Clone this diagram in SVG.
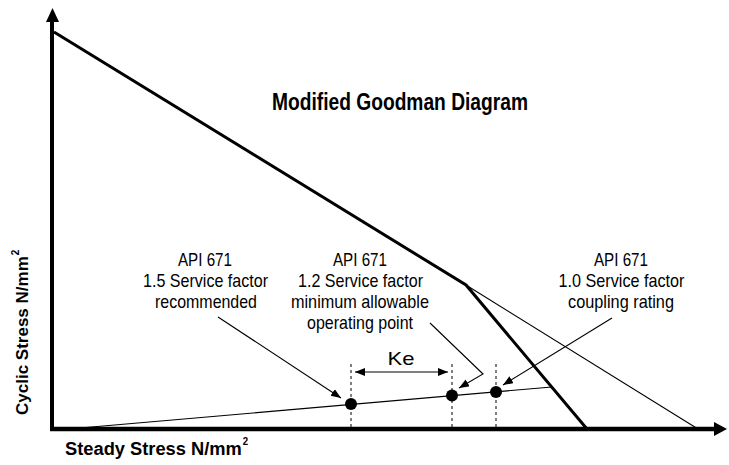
<svg xmlns="http://www.w3.org/2000/svg" width="729" height="465" viewBox="0 0 729 465">
<style>
.lbl{font-family:"Liberation Sans",Arial,sans-serif;font-size:19px;fill:#000;text-anchor:middle}
.bold{font-family:"Liberation Sans",Arial,sans-serif;font-weight:bold;fill:#000}
.sup{font-size:10px}
.thin{stroke:#000;stroke-width:1.1;fill:none}
.dash{stroke:#000;stroke-width:1;stroke-dasharray:3,3;fill:none}
</style>
<defs>
<marker id="ah" markerUnits="userSpaceOnUse" markerWidth="12" markerHeight="10" refX="10" refY="4" orient="auto">
<path d="M0,0 L10,4 L0,8 Z" fill="#000"/>
</marker>
<marker id="ahs" markerUnits="userSpaceOnUse" markerWidth="12" markerHeight="10" refX="0" refY="4" orient="auto">
<path d="M10,0 L0,4 L10,8 Z" fill="#000"/>
</marker>
</defs>
<rect width="729" height="465" fill="#fff"/>
<g id="axes">
<line x1="52" y1="431" x2="52" y2="18" stroke="#000" stroke-width="4"/>
<polygon points="52.5,8 46,22 59,22" fill="#000"/>
<line x1="50" y1="429" x2="716" y2="429" stroke="#000" stroke-width="4.5"/>
<polygon points="727,429 714,422 714,436" fill="#000"/>
</g>
<g id="goodman">
<polyline points="54,32 466,285 587,429" stroke="#000" stroke-width="3" fill="none" stroke-linejoin="miter"/>
<line class="thin" x1="466" y1="285" x2="698" y2="429"/>
<line class="thin" x1="80" y1="428" x2="552" y2="387"/>
</g>
<g id="title"><text class="bold" x="400" y="110" font-size="23" text-anchor="middle" textLength="256" lengthAdjust="spacingAndGlyphs">Modified Goodman Diagram</text></g>
<g id="label-1">
<text class="lbl" x="205" y="266" textLength="54" lengthAdjust="spacingAndGlyphs">API 671</text>
<text class="lbl" x="205.5" y="287" textLength="125" lengthAdjust="spacingAndGlyphs">1.5 Service factor</text>
<text class="lbl" x="206" y="308" textLength="102" lengthAdjust="spacingAndGlyphs">recommended</text>
</g>
<g id="label-2">
<text class="lbl" x="360" y="266" textLength="54" lengthAdjust="spacingAndGlyphs">API 671</text>
<text class="lbl" x="360.5" y="287" textLength="125" lengthAdjust="spacingAndGlyphs">1.2 Service factor</text>
<text class="lbl" x="360" y="308" textLength="138" lengthAdjust="spacingAndGlyphs">minimum allowable</text>
<text class="lbl" x="360" y="329" textLength="106" lengthAdjust="spacingAndGlyphs">operating point</text>
</g>
<g id="label-3">
<text class="lbl" x="621" y="266" textLength="54" lengthAdjust="spacingAndGlyphs">API 671</text>
<text class="lbl" x="621.5" y="287" textLength="126" lengthAdjust="spacingAndGlyphs">1.0 Service factor</text>
<text class="lbl" x="621" y="308" textLength="106" lengthAdjust="spacingAndGlyphs">coupling rating</text>
</g>
<g id="ke">
<line class="dash" x1="351" y1="364" x2="351" y2="427"/>
<line class="dash" x1="452" y1="364" x2="452" y2="427"/>
<line class="dash" x1="496" y1="364" x2="496" y2="427"/>
<line class="thin" x1="355" y1="372" x2="448" y2="372" marker-start="url(#ahs)" marker-end="url(#ah)"/>
<text class="lbl" x="401" y="365" textLength="27" lengthAdjust="spacingAndGlyphs">Ke</text>
</g>
<g id="points">
<circle id="p15" cx="351" cy="404" r="6" fill="#000"/>
<circle id="p12" cx="452" cy="395.5" r="6" fill="#000"/>
<circle id="p10" cx="496" cy="392" r="6" fill="#000"/>
</g>
<g id="connectors">
<line class="thin" x1="218" y1="317" x2="341" y2="398" marker-end="url(#ah)"/>
<polyline class="thin" points="430,323 483,374 459,388" marker-end="url(#ah)"/>
<line class="thin" x1="612" y1="318" x2="503" y2="385" marker-end="url(#ah)"/>
</g>
<g id="axis-labels">
<text class="bold" font-size="19" transform="translate(65,455) scale(0.963,1)">Steady Stress N/mm<tspan class="sup" dx="1" dy="-10">2</tspan></text>
<text class="bold" font-size="17" transform="translate(28,415) rotate(-90)">Cyclic Stress N/mm<tspan class="sup" dx="1" dy="-9">2</tspan></text>
</g>
</svg>
